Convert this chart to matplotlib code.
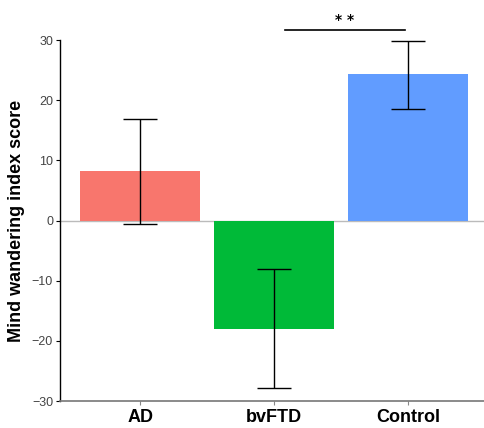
import matplotlib.pyplot as plt
import numpy as np

groups = ['AD', 'bvFTD', 'Control']
means = [8.2, -18.0, 24.3]
upper = [16.8, -8.0, 29.8]
lower = [-0.6, -27.8, 18.6]
colors = ['#F8766D', '#00BA38', '#619CFF']

sig_pair = (1.08, 1.98)
sig_y = 31.6
sig_label = '* *'

fig = plt.figure(figsize=(4.84, 4.28), dpi=100)
ax = fig.add_axes([0.124, 0.063, 0.876, 0.8435])

x = np.arange(len(groups))
ax.axhline(0, color='#bbbbbb', lw=1, zorder=0)
ax.bar(x, means, width=0.9, color=colors, zorder=1)
yerr = [np.array(means) - np.array(lower), np.array(upper) - np.array(means)]
ax.errorbar(x, means, yerr=yerr, fmt='none', ecolor='black', elinewidth=1,
            capsize=12.5, capthick=1, zorder=2)

ax.plot(sig_pair, [sig_y, sig_y], color='black', lw=1.2, clip_on=False)
ax.text(np.mean(sig_pair), sig_y + 0.6, sig_label, ha='center', va='bottom',
        fontsize=10, fontweight='bold', family='DejaVu Sans', clip_on=False)

ax.set_xlim(-0.6, 2.57)
ax.set_ylim(-30, 30)
ax.set_yticks([-30, -20, -10, 0, 10, 20, 30])
ax.set_yticklabels(['\u221230', '\u221220', '\u221210', '0', '10', '20', '30'])
ax.set_xticks(x)
ax.set_xticklabels(groups, fontsize=13, fontweight='bold', family='Liberation Sans')
for t in ax.get_yticklabels():
    t.set_fontsize(9)
    t.set_color('#444444')
    t.set_family('Liberation Sans')
ax.tick_params(axis='y', length=3, width=0.8, color='black', pad=2)
ax.tick_params(axis='x', length=3, width=0.8, color='#888888', pad=3)

ax.spines['top'].set_visible(False)
ax.spines['right'].set_visible(False)
ax.spines['left'].set_linewidth(1)
ax.spines['bottom'].set_color('#777777')
ax.spines['bottom'].set_linewidth(1.2)

ax.set_ylabel('Mind wandering index score', fontsize=13, fontweight='bold',
              family='Liberation Sans', labelpad=5)

fig.savefig('out.png', dpi=100)
